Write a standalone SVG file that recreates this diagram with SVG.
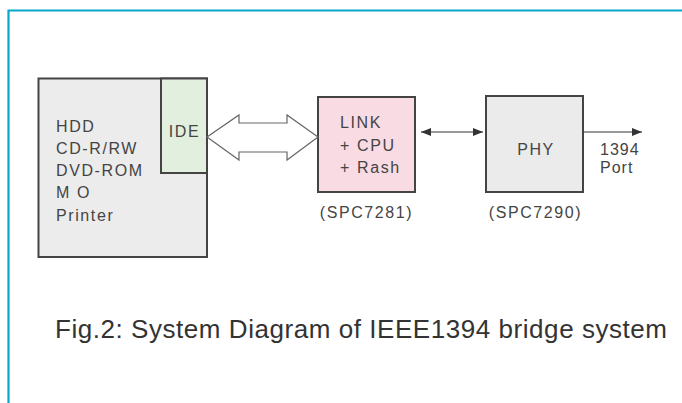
<svg xmlns="http://www.w3.org/2000/svg" width="682" height="403" viewBox="0 0 682 403">
  <style>
    .box { stroke: #444; stroke-width: 2; }
    .lbl { font-family: "Liberation Sans", Arial, sans-serif; font-size: 16px; fill: #444; letter-spacing: 1.6px; }
    .mid { text-anchor: middle; }
    .wire { stroke: #333; stroke-width: 1.2; fill: none; }
    .frame { stroke: #0aa6c9; stroke-width: 2.2; fill: none; }
  </style>
  <defs>
    <marker id="head" viewBox="0 0 10 8" refX="10" refY="4" markerWidth="10" markerHeight="8" markerUnits="userSpaceOnUse" orient="auto-start-reverse">
      <path d="M0,0 L10,4 L0,8 Z" fill="#333"/>
    </marker>
  </defs>

  <rect width="682" height="403" fill="#fff"/>

  <!-- page frame -->
  <path class="frame" d="M682,10.5 H8.5 V403"/>

  <!-- peripheral devices with IDE port -->
  <g id="devices">
    <rect class="box" x="38.5" y="78.5" width="168.5" height="178.5" fill="#ececec"/>
    <text class="lbl" x="56" y="132">HDD</text>
    <text class="lbl" x="56" y="154">CD-R/RW</text>
    <text class="lbl" x="56" y="176">DVD-ROM</text>
    <text class="lbl" x="56" y="198">M O</text>
    <text class="lbl" x="56" y="221">Printer</text>
  </g>
  <g id="ide">
    <rect class="box" x="161" y="78.5" width="46" height="94.5" fill="#e2efde"/>
    <text class="lbl mid" x="184.5" y="137">IDE</text>
  </g>

  <!-- LINK controller -->
  <g id="link">
    <rect class="box" x="318" y="97" width="97" height="95" fill="#f9dce3"/>
    <text class="lbl" x="340" y="128">LINK</text>
    <text class="lbl" x="340" y="151">+ CPU</text>
    <text class="lbl" x="340" y="173">+ Rash</text>
    <text class="lbl mid" x="366.5" y="218">(SPC7281)</text>
  </g>

  <!-- PHY -->
  <g id="phy">
    <rect class="box" x="486" y="96" width="97" height="96" fill="#ebebeb"/>
    <text class="lbl mid" x="536" y="155">PHY</text>
    <text class="lbl mid" x="535.5" y="218">(SPC7290)</text>
  </g>

  <!-- 1394 port label -->
  <g id="port">
    <text class="lbl" x="600" y="155" style="letter-spacing:1px">1394</text>
    <text class="lbl" x="600" y="173" style="letter-spacing:1px">Port</text>
  </g>

  <!-- connectors -->
  <g id="connectors">
    <path d="M207,137 L239,115 L239,123 L287,123 L287,115 L318,137 L287,160 L287,152 L239,152 L239,160 Z" fill="#fff" stroke="#666" stroke-width="1.2" stroke-linejoin="miter"/>
    <line class="wire" x1="421" y1="132" x2="483" y2="132" marker-start="url(#head)" marker-end="url(#head)"/>
    <line class="wire" x1="583" y1="132" x2="642" y2="132" marker-end="url(#head)"/>
  </g>

  <!-- caption -->
  <text x="55" y="338" font-family="'Liberation Sans', Arial, sans-serif" font-size="26" fill="#333" textLength="612" lengthAdjust="spacing">Fig.2: System Diagram of IEEE1394 bridge system</text>
</svg>
